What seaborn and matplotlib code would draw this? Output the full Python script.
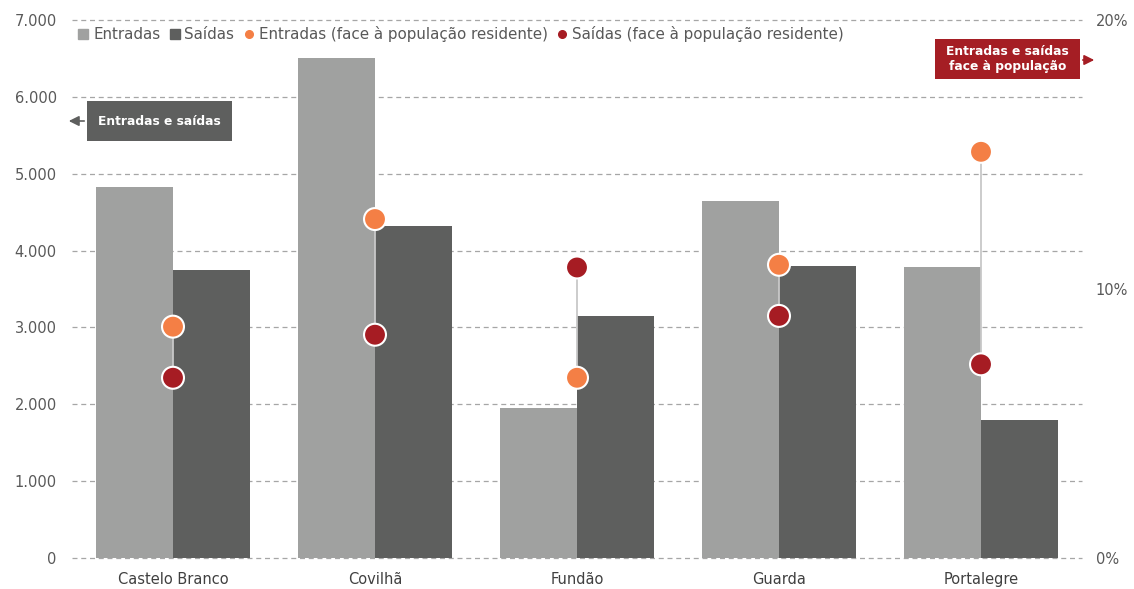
import matplotlib
matplotlib.use("Agg")
import matplotlib.pyplot as plt
from matplotlib.lines import Line2D
from matplotlib.patches import Rectangle, FancyArrowPatch
from matplotlib.ticker import FuncFormatter, MultipleLocator
import numpy as np
import pandas as pd
import seaborn as sns

# --- data ---------------------------------------------------------------
concelhos = ["Castelo Branco", "Covilhã", "Fundão", "Guarda", "Portalegre"]
entradas = [4830, 6500, 1950, 4640, 3780]
saidas = [3750, 4320, 3150, 3800, 1790]
entradas_pct = [8.6, 12.6, 6.7, 10.9, 15.1]   # % face à população residente
saidas_pct = [6.7, 8.3, 10.8, 9.0, 7.2]

serie_labels = ["Entradas", "Saídas",
                "Entradas (face à população residente)",
                "Saídas (face à população residente)"]

# --- styling ------------------------------------------------------------
C_ENT = "#A0A1A0"
C_SAI = "#5E5F5E"
C_ENT_PCT = "#F47F45"
C_SAI_PCT = "#A61C23"
C_TEXT = "#595959"
C_GRID = "#A6A6A6"

sns.set_theme(style="white")
plt.rcParams["font.family"] = ["DejaVu Sans"]

W, H = 1134, 589
fig = plt.figure(figsize=(W / 100, H / 100), dpi=100)


def fx(px):
    return px / W


def fy(py):
    return 1 - py / H


ax = fig.add_axes([fx(72), fy(558), fx(1082) - fx(72), fy(20) - fy(558)])

df = pd.DataFrame({
    "Concelho": concelhos * 2,
    "Tipo": ["Entradas"] * len(concelhos) + ["Saídas"] * len(concelhos),
    "Valor": entradas + saidas,
})

sns.barplot(data=df, x="Concelho", y="Valor", hue="Tipo",
            hue_order=["Entradas", "Saídas"], order=concelhos,
            palette=[C_ENT, C_SAI], saturation=1, width=0.762,
            linewidth=0, ax=ax, legend=False, zorder=2)

ax.set_xlim(-0.5, len(concelhos) - 0.5)
ax.set_ylim(0, 7000)
ax.yaxis.set_major_locator(MultipleLocator(1000))
ax.yaxis.set_major_formatter(
    FuncFormatter(lambda v, _: f"{int(v):,}".replace(",", ".")))
ax.set_xlabel("")
ax.set_ylabel("")
ax.grid(axis="y", color=C_GRID, linestyle=(0, (4, 3)), linewidth=0.9, zorder=0)
for gl in ax.get_ygridlines():
    gl.set_clip_on(False)
ax.set_axisbelow(True)
for s in ax.spines.values():
    s.set_visible(False)
ax.tick_params(axis="y", length=0, pad=11, labelsize=10.5, labelcolor=C_TEXT)
ax.tick_params(axis="x", length=0, pad=10, labelsize=10.5, labelcolor="#404040")

# --- secondary axis: percentages ---------------------------------------
ax2 = ax.twinx()
ax2.set_ylim(0, 20)
ax2.set_yticks([0, 10, 20])
ax2.yaxis.set_major_formatter(FuncFormatter(lambda v, _: f"{int(v)}%"))
ax2.tick_params(axis="y", length=0, pad=10, labelsize=10.5, labelcolor=C_TEXT)
for s in ax2.spines.values():
    s.set_visible(False)
ax2.grid(False)

xpos = np.arange(len(concelhos))
lo = np.minimum(entradas_pct, saidas_pct)
hi = np.maximum(entradas_pct, saidas_pct)
ax2.vlines(xpos, lo, hi, color="#C8C8C8", linewidth=1.3, zorder=2)

pct_df = pd.DataFrame({
    "x": np.concatenate([xpos, xpos]),
    "pct": entradas_pct + saidas_pct,
    "serie": [serie_labels[2]] * len(concelhos) + [serie_labels[3]] * len(concelhos),
})
sns.scatterplot(data=pct_df, x="x", y="pct", hue="serie",
                palette=[C_ENT_PCT, C_SAI_PCT], s=250, edgecolor="white",
                linewidth=1.5, ax=ax2, legend=False, zorder=3)
ax2.set_xlabel("")
ax2.set_ylabel("")
ax2.set_xlim(-0.5, len(concelhos) - 0.5)

# --- legend -------------------------------------------------------------
handles = [
    Line2D([], [], marker="s", linestyle="", color=C_ENT, markersize=6.5),
    Line2D([], [], marker="s", linestyle="", color=C_SAI, markersize=6.5),
    Line2D([], [], marker="o", linestyle="", color=C_ENT_PCT, markersize=5.5),
    Line2D([], [], marker="o", linestyle="", color=C_SAI_PCT, markersize=5.5),
]
leg = fig.legend(handles, serie_labels, loc="center left",
                 bbox_to_anchor=(fx(78), fy(34)), ncol=4, frameon=False,
                 handlelength=0.7, handletextpad=0.3, columnspacing=0.6,
                 borderaxespad=0, borderpad=0, fontsize=10.9)
for t in leg.get_texts():
    t.set_color(C_TEXT)

# --- axis callouts ------------------------------------------------------
def callout(x0, y0, x1, y1, text, color, arrow_from, arrow_to):
    fig.patches.append(Rectangle((fx(x0), fy(y1)), fx(x1) - fx(x0),
                                 fy(y0) - fy(y1), transform=fig.transFigure,
                                 facecolor=color, edgecolor="none", zorder=5))
    fig.text(fx((x0 + x1) / 2), fy((y0 + y1) / 2), text, color="white",
             fontsize=8.8, fontweight="bold", ha="center", va="center",
             linespacing=1.15, zorder=6)
    fig.add_artist(FancyArrowPatch(
        (fx(arrow_from[0]), fy(arrow_from[1])), (fx(arrow_to[0]), fy(arrow_to[1])),
        transform=fig.transFigure, arrowstyle="-|>,head_length=6,head_width=3",
        color=color, linewidth=1.2, mutation_scale=1, zorder=5))


callout(87, 101, 232, 141, "Entradas e saídas", C_SAI, (87, 121), (66, 121))
callout(935, 39, 1080, 79, "Entradas e saídas\nface à população", "#A51E24",
        (1080, 60), (1097, 60))

fig.savefig("out.png", dpi=100)
